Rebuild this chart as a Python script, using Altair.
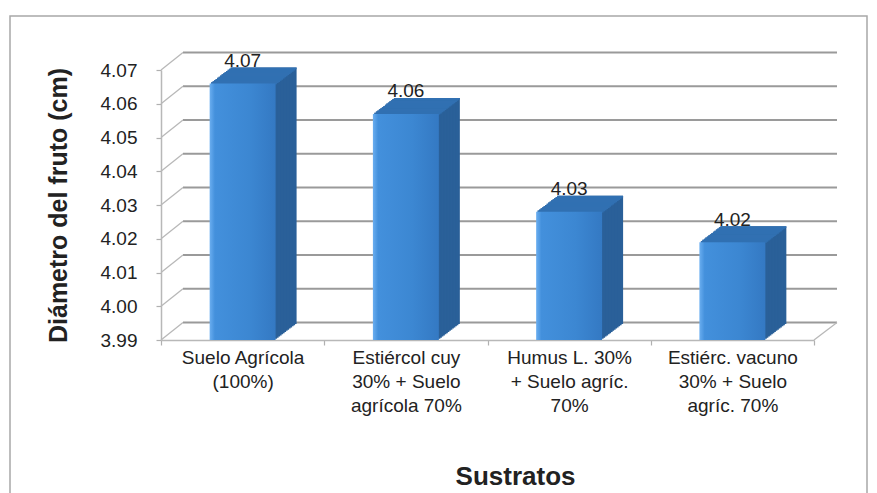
import altair as alt
import pandas as pd

# ---- data ----
categories = [
    "Suelo Agrícola\n(100%)",
    "Estiércol cuy\n30% + Suelo\nagrícola 70%",
    "Humus L. 30%\n+ Suelo agríc.\n70%",
    "Estiérc. vacuno\n30% + Suelo\nagríc. 70%",
]
diametro = [4.066, 4.057, 4.028, 4.019]
y_ticks = [3.99, 4.00, 4.01, 4.02, 4.03, 4.04, 4.05, 4.06, 4.07]
Y_MIN, Y_MAX = 3.99, 4.07

# ---- layout / style ----
W, H = 653, 270
DX, DY = 21, -16          # bar depth (oblique)
WX, WY = 22, -17.5        # back-wall depth
N = 14                    # extrusion steps
FONT = "Liberation Sans"
TXT = "#222222"
FRONT = alt.LinearGradient(
    gradient="linear", x1=0, x2=1, y1=0, y2=0,
    stops=[alt.GradientStop(color="#6aaef0", offset=0),
           alt.GradientStop(color="#4390dc", offset=0.08),
           alt.GradientStop(color="#3c87d2", offset=0.6),
           alt.GradientStop(color="#3479c3", offset=1)])
SIDE = "#2a6099"
TOP = "#3170b2"

df = pd.DataFrame({"cat": categories, "v": diametro})
grid_df = pd.DataFrame({"v": y_ticks})
one = pd.DataFrame({"a": [0]})

axis_x = alt.Axis(
    title="Sustratos", labelExpr="split(datum.label, '\\n')", labelAngle=0,
    labelFont=FONT, labelFontSize=19, labelColor=TXT, labelLineHeight=24,
    labelBaseline="top", labelPadding=3, tickSize=5, tickBand="extent",
    labelOverlap=False, tickColor="#b0b0b0", tickWidth=1.2, domainColor="#b8b8b8",
    domainWidth=1.5, titleFont=FONT, titleFontSize=26, titleFontWeight="bold",
    titleColor=TXT, titleX=354, titleY=144, titleBaseline="alphabetic", grid=False)
axis_y = alt.Axis(
    title="Diámetro del fruto (cm)", values=y_ticks, tickCount=len(y_ticks),
    format=".2f", labelFont=FONT, labelFontSize=19, labelColor=TXT, labelPadding=19,
    labelOverlap=False, tickSize=5, tickColor="#b0b0b0", tickWidth=1.2,
    domainColor="#b8b8b8", domainWidth=1.5, titleFont=FONT, titleFontSize=25,
    titleFontWeight="bold", titleColor=TXT, titleX=-103, titleY=135,
    titleBaseline="middle", grid=False)

x_enc = alt.X("cat:N", sort=categories,
              scale=alt.Scale(paddingInner=0, paddingOuter=0), axis=axis_x)
y_enc = alt.Y("v:Q", scale=alt.Scale(domain=[Y_MIN, Y_MAX], nice=False, zero=False),
              axis=axis_y)
BW = alt.RelativeBandSize(0.404)

border = alt.Chart(one).mark_rect(fill=None, stroke="#a8a8a8", strokeWidth=1.5).encode(
    x=alt.value(-151), x2=alt.value(706), y=alt.value(-54), y2=alt.value(445))

grid = alt.Chart(grid_df).mark_rule(color="#9a9a9a", strokeWidth=2.2, yOffset=WY).encode(
    x=alt.value(WX), x2=alt.value(W + WX + 1), y=y_enc)
diag = alt.Chart(grid_df).mark_rule(color="#b8b8b8", strokeWidth=1.3, y2Offset=WY).encode(
    x=alt.value(0), x2=alt.value(WX), y=y_enc, y2=alt.Y2("v"))
floor_r = alt.Chart(one).mark_rule(color="#b8b8b8", strokeWidth=1.3, y2Offset=WY).encode(
    x=alt.value(W), x2=alt.value(W + WX + 1), y=alt.YDatum(Y_MIN), y2=alt.Y2Datum(Y_MIN))

base = alt.Chart(df)
side_layers = []
for k in range(N, 0, -1):
    ox, oy = DX * k / N, DY * k / N
    side_layers.append(base.mark_bar(width=BW, color=SIDE, xOffset=ox, yOffset=oy,
                                     y2Offset=oy).encode(
        x=x_enc, y=y_enc, y2=alt.Y2Datum(Y_MIN)))
top_layers = []
for k in range(1, N + 1):
    ox, oy = DX * k / N, DY * k / N
    top_layers.append(base.mark_bar(width=BW, color=TOP, xOffset=ox, yOffset=oy,
                                    y2Offset=oy + abs(DY) / N + 0.7).encode(
        x=x_enc, y=y_enc, y2=alt.Y2("v")))
front = base.mark_bar(width=BW, color=FRONT).encode(
    x=x_enc, y=y_enc, y2=alt.Y2Datum(Y_MIN))
labels = base.mark_text(dy=-16.5, baseline="alphabetic", font=FONT, fontSize=19,
                        color=TXT).encode(
    x=x_enc, y=y_enc, text=alt.Text("v:Q", format=".2f"))

chart = alt.layer(border, grid, diag, floor_r, *side_layers, *top_layers, front, labels).properties(
    width=W, height=H,
    autosize=alt.AutoSizeParams(type="none"),
    padding={"left": 161, "top": 70, "right": 63, "bottom": 153},
    background="white",
).configure_view(stroke=None)

chart.save("out.html", embed_options={"renderer": "svg", "actions": False})
